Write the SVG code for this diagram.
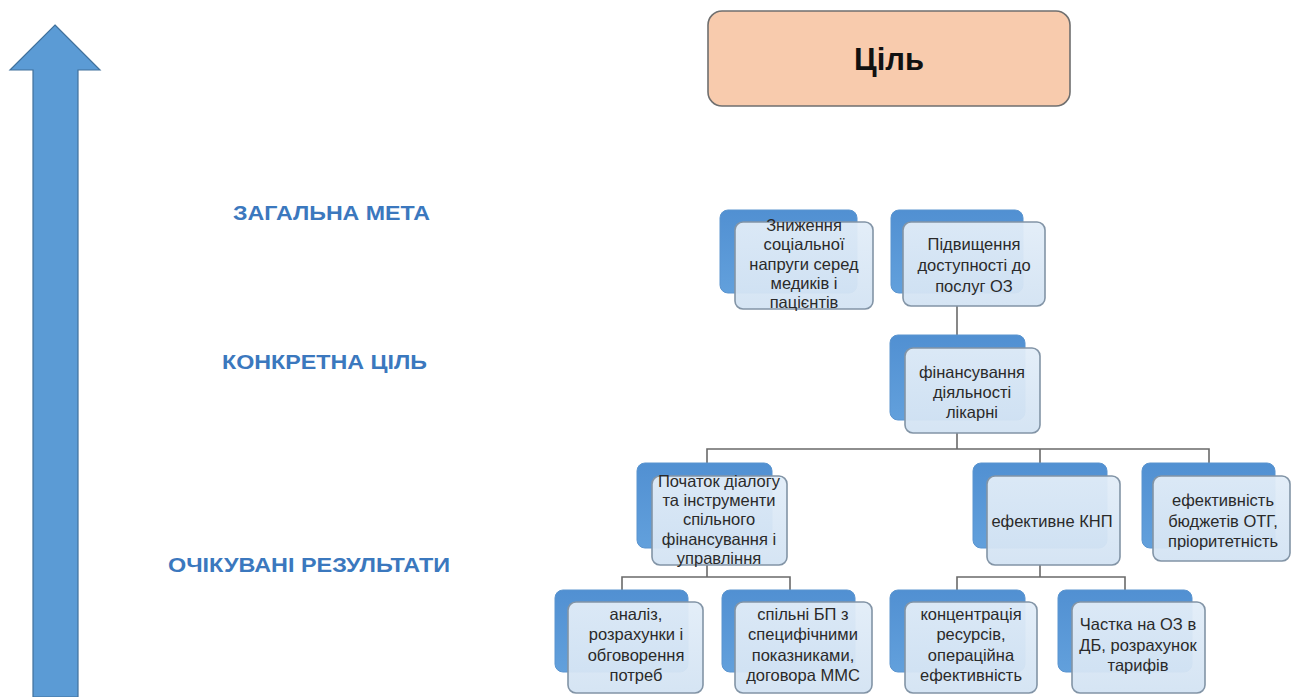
<svg xmlns="http://www.w3.org/2000/svg" width="1294" height="697" viewBox="0 0 1294 697">
  <defs>
    <linearGradient id="backFill" x1="0" y1="0" x2="0" y2="1">
      <stop offset="0" stop-color="#5190d2"/>
      <stop offset="1" stop-color="#62a0dc"/>
    </linearGradient>
    <linearGradient id="frontFill" x1="0" y1="0" x2="0" y2="1">
      <stop offset="0" stop-color="#e2edf8"/>
      <stop offset="1" stop-color="#d3e3f3"/>
    </linearGradient>
  </defs>
  <style>
    .back { fill: url(#backFill); stroke: #5a94cf; stroke-width: 1; }
    .front { fill: url(#frontFill); fill-opacity: 0.95; stroke: #8294a6; stroke-width: 1.6; }
    .label { font-family: "Liberation Sans", Arial, sans-serif; font-size: 16.5px; fill: #2a2a2a; text-anchor: middle; }
    .level { font-family: "Liberation Sans", Arial, sans-serif; font-size: 20px; font-weight: bold; fill: #3b78be; }
    .conn { fill: none; stroke: #6a6a6a; stroke-width: 1.6; }
  </style>
  <rect width="1294" height="697" fill="#ffffff"/>

  <!-- vertical progression arrow -->
  <g id="axis-arrow">
    <polygon points="55,25 100,70 78,70 78,697 33,697 33,70 10,70" fill="#5b9bd5" stroke="#41719c" stroke-width="1.2"/>
  </g>

  <!-- level captions -->
  <g id="level-labels">
    <text class="level" x="233" y="220" textLength="197" lengthAdjust="spacingAndGlyphs">ЗАГАЛЬНА МЕТА</text>
    <text class="level" x="222" y="369" textLength="205" lengthAdjust="spacingAndGlyphs">КОНКРЕТНА ЦІЛЬ</text>
    <text class="level" x="168" y="572" textLength="282" lengthAdjust="spacingAndGlyphs">ОЧІКУВАНІ РЕЗУЛЬТАТИ</text>
  </g>

  <!-- connectors -->
  <g id="connectors">
    <path class="conn" d="M957,306 V336"/>
    <path class="conn" d="M957,433 V449 M707,463 V449 H1209 V463 M1040,449 V463"/>
    <path class="conn" d="M707,565 V577 M622,590 V577 H790 V590"/>
    <path class="conn" d="M1040,565 V577 M957,590 V577 H1125 V590"/>
  </g>

  <!-- goal -->
  <g id="goal">
    <rect x="708" y="11" width="362" height="95" rx="14" fill="#f8cbad" stroke="#6f6f6f" stroke-width="1.6"/>
    <text x="889" y="70" font-family="Liberation Sans, Arial, sans-serif" font-size="31" font-weight="bold" fill="#111" text-anchor="middle">Ціль</text>
  </g>

  <g id="node-tension">
    <rect class="back" x="720" y="210" width="137" height="83" rx="8"/>
    <rect class="front" x="735" y="222" width="138" height="87" rx="8"/>
    <text class="label" x="804" y="231">Зниження</text>
    <text class="label" x="804" y="250">соціальної</text>
    <text class="label" x="804" y="270">напруги серед</text>
    <text class="label" x="804" y="289">медиків і</text>
    <text class="label" x="804" y="308">пацієнтів</text>
  </g>

  <g id="node-access">
    <rect class="back" x="891" y="210" width="132" height="83" rx="8"/>
    <rect class="front" x="903" y="222" width="142" height="84" rx="8"/>
    <text class="label" x="974" y="250">Підвищення</text>
    <text class="label" x="974" y="271">доступності до</text>
    <text class="label" x="974" y="292">послуг ОЗ</text>
  </g>

  <g id="node-financing">
    <rect class="back" x="890" y="335" width="135" height="85" rx="8"/>
    <rect class="front" x="905" y="348" width="135" height="85" rx="8"/>
    <text class="label" x="972" y="378">фінансування</text>
    <text class="label" x="972" y="398">діяльності</text>
    <text class="label" x="972" y="418">лікарні</text>
  </g>

  <g id="node-dialogue">
    <rect class="back" x="637" y="463" width="135" height="85" rx="8"/>
    <rect class="front" x="652" y="476" width="135" height="89" rx="8"/>
    <text class="label" x="719" y="487">Початок діалогу</text>
    <text class="label" x="719" y="506">та інструменти</text>
    <text class="label" x="719" y="525">спільного</text>
    <text class="label" x="719" y="545">фінансування і</text>
    <text class="label" x="719" y="564">управління</text>
  </g>

  <g id="node-knp">
    <rect class="back" x="973" y="463" width="134" height="85" rx="8"/>
    <rect class="front" x="987" y="476" width="133" height="89" rx="8"/>
    <text class="label" x="1052" y="527">ефективне КНП</text>
  </g>

  <g id="node-otg">
    <rect class="back" x="1142" y="463" width="133" height="85" rx="8"/>
    <rect class="front" x="1153" y="476" width="137" height="85" rx="8"/>
    <text class="label" x="1223" y="506">ефективність</text>
    <text class="label" x="1223" y="527">бюджетів ОТГ,</text>
    <text class="label" x="1223" y="547">пріоритетність</text>
  </g>

  <g id="node-analysis">
    <rect class="back" x="555" y="590" width="133" height="82" rx="8"/>
    <rect class="front" x="568" y="602" width="135" height="91" rx="8"/>
    <text class="label" x="636" y="620">аналіз,</text>
    <text class="label" x="636" y="640">розрахунки і</text>
    <text class="label" x="636" y="661">обговорення</text>
    <text class="label" x="636" y="681">потреб</text>
  </g>

  <g id="node-plans">
    <rect class="back" x="722" y="590" width="133" height="82" rx="8"/>
    <rect class="front" x="735" y="602" width="137" height="91" rx="8"/>
    <text class="label" x="803" y="620">спільні БП з</text>
    <text class="label" x="803" y="640">специфічними</text>
    <text class="label" x="803" y="661">показниками,</text>
    <text class="label" x="803" y="681">договора ММС</text>
  </g>

  <g id="node-resources">
    <rect class="back" x="890" y="590" width="135" height="82" rx="8"/>
    <rect class="front" x="905" y="602" width="132" height="91" rx="8"/>
    <text class="label" x="971" y="620">концентрація</text>
    <text class="label" x="971" y="640">ресурсів,</text>
    <text class="label" x="971" y="661">операційна</text>
    <text class="label" x="971" y="681">ефективність</text>
  </g>

  <g id="node-tariffs">
    <rect class="back" x="1058" y="590" width="134" height="82" rx="8"/>
    <rect class="front" x="1072" y="602" width="133" height="91" rx="8"/>
    <text class="label" x="1138" y="630">Частка на ОЗ в</text>
    <text class="label" x="1138" y="651">ДБ, розрахунок</text>
    <text class="label" x="1138" y="671">тарифів</text>
  </g>
</svg>
